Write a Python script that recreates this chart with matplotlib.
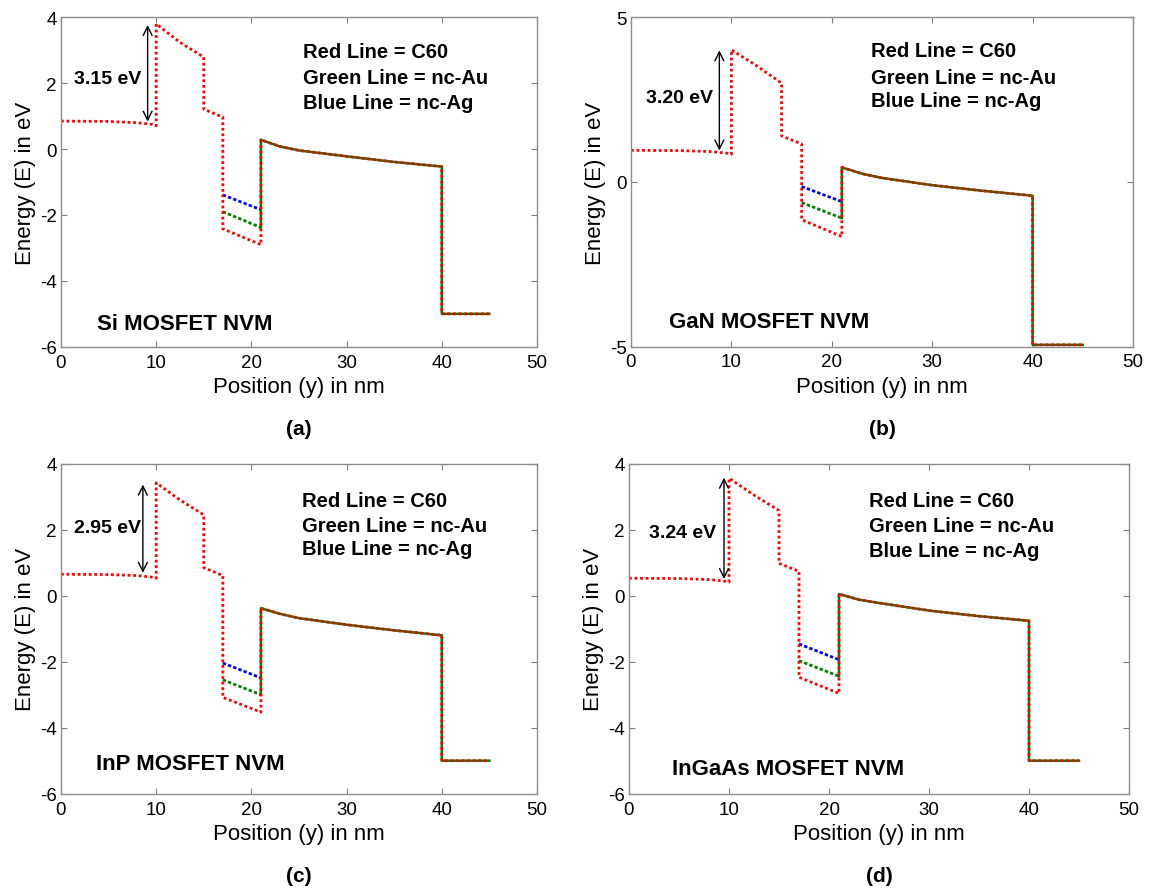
import numpy as np
import matplotlib
matplotlib.use("Agg")
import matplotlib.pyplot as plt

plt.rcParams["font.family"] = ["Liberation Sans", "DejaVu Sans"]
plt.rcParams["axes.unicode_minus"] = False

# positions along the stack (nm); repeated values are the band offsets
x_pts = [0, 5, 8, 9.6, 10, 10, 12.5, 15, 15, 17, 17, 21, 21, 23, 25, 30, 35, 40, 40, 45]

# red line (C60) energies at x_pts, one list per device
red_si = [0.85, 0.84, 0.80, 0.75, 0.71, 3.80, 3.24, 2.79, 1.21, 0.97, -2.42, -2.90,
          0.28, 0.08, -0.04, -0.22, -0.39, -0.53, -5.0, -5.0]
red_gan = [0.96, 0.95, 0.92, 0.87, 0.84, 4.01, 3.53, 3.00, 1.40, 1.15, -1.15, -1.66,
           0.44, 0.25, 0.12, -0.10, -0.27, -0.42, -4.95, -4.95]
red_inp = [0.65, 0.64, 0.61, 0.56, 0.53, 3.42, 2.90, 2.45, 0.85, 0.61, -3.08, -3.53,
           -0.38, -0.55, -0.68, -0.88, -1.05, -1.20, -5.0, -5.0]
red_ingaas = [0.53, 0.52, 0.49, 0.44, 0.41, 3.56, 3.05, 2.58, 0.98, 0.74, -2.47, -2.96,
              0.05, -0.12, -0.22, -0.45, -0.62, -0.76, -5.0, -5.0]

# well levels at y = 17 and 21 nm for nc-Au (green) and nc-Ag (blue)
green_well = {"si": [-1.90, -2.38], "gan": [-0.63, -1.10], "inp": [-2.55, -3.00], "ingaas": [-1.97, -2.44]}
blue_well = {"si": [-1.39, -1.84], "gan": [-0.14, -0.60], "inp": [-2.04, -2.49], "ingaas": [-1.46, -1.94]}

gap_labels = ["3.15 eV", "3.20 eV", "2.95 eV", "3.24 eV"]
device_labels = ["Si MOSFET NVM", "GaN MOSFET NVM", "InP MOSFET NVM", "InGaAs MOSFET NVM"]
legend_lines = ["Red Line = C60", "Green Line = nc-Au", "Blue Line = nc-Ag"]
panel_tags = ["(a)", "(b)", "(c)", "(d)"]

panels = [
    # key, red data, axes rect (px), ylim, yticks, arrow (x, y0, y1), gap text, device text, legend x, legend ys
    ("si", red_si, [61, 18.3, 476, 329.5], (-6, 4), [-6, -4, -2, 0, 2, 4],
     (9.1, 0.75, 3.85), (1.4, 2.13), (3.8, -5.30), 25.4, [2.96, 2.16, 1.40]),
    ("gan", red_gan, [631, 18.3, 502, 329.2], (-5, 5), [-5, 0, 5],
     (8.8, 0.87, 4.08), (1.5, 2.56), (3.8, -4.25), 23.9, [3.98, 3.17, 2.46]),
    ("inp", red_inp, [61, 464.7, 476, 330], (-6, 4), [-6, -4, -2, 0, 2, 4],
     (8.6, 0.61, 3.45), (1.4, 2.07), (3.7, -5.10), 25.3, [2.88, 2.12, 1.42]),
    ("ingaas", red_ingaas, [629, 464.7, 500, 330], (-6, 4), [-6, -4, -2, 0, 2, 4],
     (9.5, 0.42, 3.66), (2.0, 1.92), (4.25, -5.25), 24.0, [2.88, 2.12, 1.36]),
]

W, H = 1149, 895
fig = plt.figure(figsize=(W / 100, H / 100), dpi=100)

for i, (key, red, rect, ylim, yticks, arr, gap_xy, dev_xy, leg_x, leg_ys) in enumerate(panels):
    left, top, width, height = rect
    ax = fig.add_axes([left / W, 1 - (top + height) / H, width / W, height / H])

    # nc-Ag and nc-Au levels inside the well, dotted
    ax.plot(x_pts[10:12], blue_well[key], color="blue", lw=2, linestyle=(0, (1.2, 0.8)))
    ax.plot(x_pts[10:12], green_well[key], color="green", lw=2, linestyle=(0, (1.2, 0.8)))
    # beyond the well all three coincide; green shows through the red dots
    ax.plot(x_pts[11:12] + x_pts[12:], green_well[key][1:] + red[12:], color="green", lw=1.8)
    ax.plot(x_pts, red, color="red", lw=2, linestyle=(0, (1, 1)))

    ax.set_xlim(0, 50)
    ax.set_ylim(*ylim)
    ax.set_xticks([0, 10, 20, 30, 40, 50])
    ax.set_yticks(yticks)
    ax.tick_params(direction="in", top=True, right=True, length=4, labelsize=13.5,
                   color="0.5", pad=3)
    ax.tick_params(axis="x", pad=5)
    for s in ax.spines.values():
        s.set_color("0.55")
        s.set_linewidth(1.0)
    ax.set_xlabel("Position (y) in nm", fontsize=16, labelpad=4)
    ax.set_ylabel("Energy (E) in eV", fontsize=16, labelpad=3)

    ax.annotate("", xy=(arr[0], arr[2]), xytext=(arr[0], arr[1]),
                arrowprops=dict(arrowstyle="<->", color="black", lw=1.0, mutation_scale=16))
    ax.text(gap_xy[0], gap_xy[1], gap_labels[i], fontsize=14, fontweight="bold", va="center")
    ax.text(dev_xy[0], dev_xy[1], device_labels[i], fontsize=16, fontweight="bold", va="center")
    for line, ly in zip(legend_lines, leg_ys):
        ax.text(leg_x, ly, line, fontsize=14.5, fontweight="bold", va="center")

    cx = (left + width / 2) / W
    ty = top + height + 82
    fig.text(cx, 1 - ty / H, panel_tags[i], ha="center", va="center",
             fontsize=15, fontweight="bold")

fig.savefig("out.png", dpi=100)
